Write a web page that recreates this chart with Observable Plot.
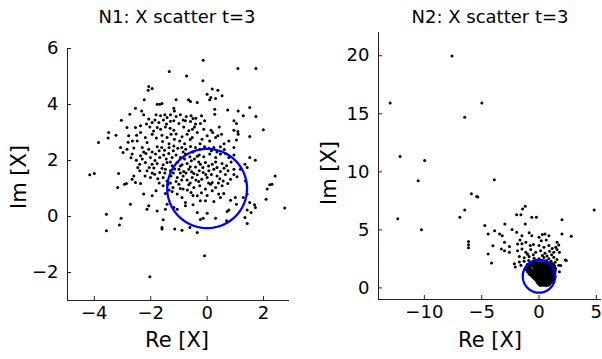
<!DOCTYPE html>
<html><head><meta charset="utf-8">
<script src="https://cdn.jsdelivr.net/npm/d3@7"></script>
<script src="https://cdn.jsdelivr.net/npm/@observablehq/plot@0.6"></script>
<style>
html,body{margin:0;padding:0;background:#fff;}
#wrap{position:relative;width:602px;height:359px;overflow:hidden;font-family:"DejaVu Sans",sans-serif;}
.panel{position:absolute;top:0;}
#overlay{position:absolute;left:0;top:0;pointer-events:none;}
</style></head>
<body><div id="wrap"></div>
<script>
// ---------- data ----------
const titles = ["N1: X scatter t=3", "N2: X scatter t=3"];
const xLabel = "Re [X]";
const yLabel = "Im [X]";
const n1XTicks = [-4, -2, 0, 2];
const n1YTicks = [-2, 0, 2, 4, 6];
const n2XTicks = [-10, -5, 0, 5];
const n2YTicks = [0, 5, 10, 15, 20];
const circleCenter = [0, 1];
const circleRadius = Math.SQRT2;

const n1Points = [
[-0.14,5.58],[1.09,5.29],[1.73,5.29],[-1.34,5.18],[-0.73,5.02],[-0.15,4.85],[-2.07,4.64],[-1.95,4.57],[-2.09,4.51],[0.18,4.55],[0.38,4.51],
[0.00,4.37],[0.13,4.25],[0.53,4.31],[0.30,4.21],[0.09,4.17],[-2.23,4.17],[-1.10,4.17],[-0.66,4.17],[-0.59,4.11],[-0.35,4.07],[-1.77,4.01],[-1.68,4.01],[-1.60,4.04],[0.73,3.80],[1.51,3.89],[0.27,3.83],[-1.18,3.87],[-2.54,3.87],
[-2.32,3.77],[-1.16,3.77],[0.27,3.65],[1.10,3.77],[1.28,3.60],[1.73,3.57],[-2.25,3.63],[-2.74,3.65],[-1.81,3.63],[-1.65,3.60],[-1.50,3.63],[-1.42,3.54],[-1.30,3.63],[-1.10,3.57],[-0.95,3.63],[-0.74,3.57],[-0.57,3.60],[-0.40,3.51],[-0.20,3.60],[-0.09,3.42],[-0.77,3.42],[-0.59,3.39],[-0.24,3.32],[-0.41,3.30],[-3.04,3.44],[-2.07,3.48],[-1.95,3.36],[-1.71,3.36],[-1.44,3.30],[-1.18,3.42],[-1.00,3.32],[0.95,3.42],[1.04,3.32],
[-2.84,3.18],[-2.54,3.18],[-2.36,3.24],[-2.03,3.20],[-1.77,3.18],[-1.65,3.12],[-1.48,3.20],[-1.31,3.15],[-1.18,3.08],[-0.83,3.20],[-0.65,3.06],[-0.52,3.12],[-0.12,3.12],[0.14,3.08],[0.43,3.20],[0.95,3.08],[1.09,3.04],[1.10,2.94],[1.99,3.10],
[-3.85,2.64],[-3.49,3.00],[-3.51,2.80],[-3.23,2.90],[-2.78,2.88],[-2.65,2.70],[-2.36,3.00],[-2.19,2.82],[-2.48,2.70],[-2.13,2.64],[-1.95,2.94],[-1.80,2.80],[-1.58,2.68],[-1.42,2.82],[-1.28,2.94],[-1.16,2.76],[-0.97,2.70],[-0.89,2.85],[-0.71,2.94],[-0.53,2.82],[-0.35,3.00],[-0.18,2.76],[0.00,2.88],[0.09,2.70],[0.30,2.82],[0.38,2.88],[0.51,2.94],[0.77,2.70],[1.04,2.73],[1.51,2.86],
[-3.07,2.46],[-2.84,2.40],[-2.30,2.46],[-2.07,2.40],[-1.77,2.49],[-1.61,2.46],[-1.51,2.37],[-1.35,2.46],[-1.18,2.52],[-1.04,2.44],[-0.90,2.46],[-0.76,2.40],[-0.59,2.50],[-0.41,2.46],[-0.26,2.40],[-0.09,2.49],[0.06,2.44],[0.24,2.46],[0.47,2.49],[0.61,2.39],[0.95,2.46],
[-2.98,2.29],[-2.66,2.23],[-2.36,2.17],[-2.17,2.25],[-2.01,2.11],[-1.83,2.23],[-1.68,2.11],[-1.54,2.20],[-1.36,2.25],[-1.24,2.11],[-1.10,2.20],[-0.95,2.11],[-0.77,2.23],[-0.61,2.13],[-0.45,2.05],[-0.28,2.20],[-0.12,2.13],[0.09,2.23],[0.30,2.11],[0.47,2.23],[0.77,2.11],[0.95,2.20],[1.51,2.11],[1.71,2.01],
[-2.51,2.01],[-2.39,1.87],[-2.19,1.93],[-1.95,1.87],[-1.77,1.89],[-1.56,1.85],[-1.42,1.93],[-1.24,1.81],[-1.06,1.93],[-0.89,1.85],[-0.71,1.89],[-0.56,1.99],[-0.41,1.77],[-0.24,1.87],[-0.06,1.93],[0.18,1.87],[0.35,1.75],[0.53,1.89],[0.69,1.81],[0.95,1.69],[1.34,1.87],[1.42,1.75],
[-2.46,1.75],[-2.39,1.63],[-2.13,1.63],[-1.89,1.73],[-1.68,1.57],[-1.48,1.69],[-1.30,1.63],[-1.00,1.69],[-0.83,1.61],[-0.65,1.69],[-0.47,1.54],[-0.28,1.63],[-0.14,1.57],[0.06,1.63],[0.24,1.69],[0.47,1.61],[0.74,1.63],[1.18,1.69],[-3.14,1.54],[-4.16,1.49],[-4.00,1.54],
[-2.60,1.45],[-2.66,1.33],[-2.93,1.15],[-2.54,1.21],[-2.36,1.18],[-2.01,1.39],[-1.86,1.51],[-1.56,1.39],[-1.42,1.27],[-1.28,1.45],[-1.06,1.39],[-0.85,1.45],[-0.71,1.30],[-0.53,1.39],[-0.35,1.49],[-0.19,1.33],[0.00,1.39],[0.18,1.21],[0.35,1.45],[0.57,1.27],[0.83,1.33],[1.06,1.42],
[-3.17,1.04],[-2.86,1.18],[-1.56,1.10],[-1.39,1.15],[-1.21,1.04],[-1.00,1.15],[-0.85,0.98],[-0.65,1.13],[-0.47,1.04],[-0.26,1.10],[-0.06,0.98],[0.12,1.15],[0.30,1.04],[0.53,1.10],[0.73,1.18],[1.36,1.27],[2.13,0.98],[2.22,1.13],[2.30,1.15],[2.41,1.45],
[-1.81,0.92],[-1.48,0.82],[-1.24,0.89],[-1.06,0.80],[-0.89,0.68],[-0.57,0.86],[-0.35,0.74],[0.18,0.92],[0.41,0.80],[0.59,0.82],[1.00,0.68],[1.42,0.80],[-2.25,0.80],[-1.95,0.74],[2.09,0.62],[-2.72,0.44],
[-2.07,0.38],[-2.13,0.26],[-1.42,0.44],[-1.18,0.32],[-0.77,0.50],[-0.77,0.38],[-0.50,0.42],[-0.24,0.56],[-0.06,0.56],[0.24,0.54],[0.47,0.68],[0.83,0.58],[1.04,0.44],[1.28,0.68],[1.51,0.50],[1.68,0.42],[1.71,0.32],[-1.77,0.20],[-1.48,0.26],[-1.06,0.26],[0.71,0.18],[0.77,0.23],[1.42,0.23],[1.56,0.14],[2.75,0.30],
[-3.57,0.08],[-3.05,-0.06],[-3.11,-0.30],[-1.56,-0.12],[-0.35,0.14],[0.00,0.12],[-0.24,-0.11],[-0.14,-0.06],[0.30,-0.06],[0.69,-0.15],[1.34,-0.04],[1.42,-0.25],[-3.57,-0.51],[-1.60,-0.39],[-1.60,-0.45],[-1.15,-0.45],[-0.89,-0.49],[-0.61,-0.39],[-0.35,-0.57],[-0.09,-1.40],[-2.03,-2.15],
[-1.90,3.05],[-1.60,2.90],[-1.35,2.60],[-1.10,2.95],[-0.80,2.60],[-0.60,2.75],[-0.45,3.20],[-0.25,2.60],[0.20,3.00],[0.60,2.60],
[-2.25,2.30],[-1.95,2.30],[-1.70,2.35],[-1.45,2.05],[-1.20,2.35],[-0.85,2.30],[-0.50,2.30],[-0.35,2.15],[0.15,2.35],[0.35,2.30],[0.65,2.25],
[-2.30,2.05],[-2.05,1.75],[-1.85,2.00],[-1.60,1.72],[-1.30,1.95],[-1.15,1.70],[-0.95,1.80],[-0.80,2.05],[-0.60,1.78],[-0.30,1.95],[-0.15,1.75],[0.05,1.80],[0.30,1.95],[0.60,1.72],[0.85,1.95],
[-2.20,1.45],[-1.95,1.55],[-1.75,1.35],[-1.50,1.55],[-1.20,1.55],[-0.95,1.55],[-0.75,1.55],[-0.55,1.60],[-0.40,1.30],[-0.05,1.50],[0.15,1.50],[0.45,1.35],[0.65,1.50],[0.95,1.50],
[-1.70,1.20],[-1.30,1.20],[-1.10,1.25],[-0.90,1.30],[-0.60,1.20],[-0.30,1.25],[0.05,1.20],[0.40,1.20],[-1.35,0.95],[-0.95,1.00],[-0.70,0.95],[-0.50,0.75],[-0.20,0.85],[0.00,0.75],
[-1.55,3.45],[-1.30,3.40],[-0.85,3.45],[-0.50,3.50],[-1.85,3.45],[-2.15,3.30],[-2.50,2.90],[-2.60,2.45],[-2.80,2.65],[-2.70,2.10]
];

const n2Outliers = [
[-7.59,19.97],[-12.98,15.92],[-4.99,15.92],[-6.48,14.71],[-12.12,11.32],[-9.97,10.98],[-10.54,9.22],[-3.90,9.31],[-5.90,8.10],[-5.44,7.87],[-5.33,7.82],[-6.48,6.72],[4.81,6.72],[-12.32,5.95],[-6.91,6.09],[-10.26,5.00]
];
const n2Middle = [
[-4.73,5.37],[-6.15,4.00],[-6.15,3.72],[-6.15,3.45],[-4.44,4.65],[-4.44,2.93],[-4.14,2.14],[-3.87,4.93],[-3.44,4.65],[-3.21,4.50],[-2.98,5.51],[-2.35,5.02],[-4.02,3.64],[-3.01,3.93],[-2.58,3.56],[-3.29,3.36],[-3.01,3.21],[-2.58,3.07],
[-1.20,7.03],[-1.43,6.80],[-1.95,6.31],[-1.58,6.31],[-0.63,6.08],[-0.23,6.08],[2.00,5.88],[-1.20,5.51],[2.81,4.45],[2.00,4.65],
[-1.95,4.79],[-1.49,4.50],[-1.66,4.13],[-1.87,3.79],[-0.86,4.74],[-0.63,4.50],[0.00,4.36],[0.29,4.59],[0.52,4.65],[0.86,4.50],[0.63,4.13],[0.20,4.07],[1.57,3.93],[1.72,3.70],
[-1.49,3.80],[-1.15,3.93],[-0.77,3.65],[-0.49,3.73],[0.00,3.65],[0.43,3.50],[0.86,3.65],[1.15,3.40],
[-1.87,3.21],[-1.49,3.36],[-1.15,3.07],[-0.72,3.30],[-0.29,3.07],[0.14,3.21],[0.52,2.99],[0.92,3.16],[1.29,3.07],[1.57,3.30],
[-1.72,2.70],[-1.29,2.60],[-0.86,2.70],[-0.43,2.55],[0.00,2.50],[0.43,2.62],[0.86,2.52],[1.29,2.65],[1.57,2.45],[2.29,2.40],
[-2.15,2.09],[-2.07,1.80],[-1.72,2.24],[-1.58,1.95],[1.72,1.95],[1.78,1.38],[1.46,3.51],[1.78,3.07],[2.38,2.36],[1.89,1.93],
[-1.00,2.90],[-0.50,2.85],[0.30,2.80],[0.70,2.75],[1.10,2.85],[-0.20,2.30],[0.65,2.35],[1.05,2.30],[1.40,2.20],[-1.30,2.30],[-0.90,2.35]
];
const n2Core = [
[-0.62,2.20],[-0.38,2.24],[-0.15,2.18],[0.08,2.22],[0.31,2.19],[0.55,2.23],[0.78,2.18],[1.02,2.20],
[-1.02,2.02],[-0.80,1.98],[-0.57,2.03],[-0.34,1.99],[-0.10,2.02],[0.13,1.98],[0.36,2.03],[0.60,1.99],[0.83,2.02],[1.06,1.98],[1.25,2.02],
[-1.10,1.80],[-0.88,1.83],[-0.46,1.78],[-0.23,1.82],[0.00,1.79],[0.23,1.83],[0.46,1.78],[0.69,1.82],[0.92,1.79],[1.15,1.83],[1.33,1.79],
[-1.12,1.60],[-0.90,1.57],[-0.68,1.62],[-0.30,1.60],[-0.08,1.58],[0.15,1.62],[0.38,1.58],[0.61,1.61],[0.84,1.58],[1.07,1.62],[1.30,1.59],[1.42,1.64],
[-1.00,1.40],[-0.60,1.42],[-0.38,1.38],[-0.16,1.41],[0.07,1.38],[0.30,1.42],[0.53,1.39],[0.76,1.41],[0.99,1.38],[1.22,1.42],[1.40,1.40],
[-0.88,1.20],[-0.66,1.18],[-0.44,1.22],[-0.22,1.19],[0.01,1.22],[0.24,1.18],[0.47,1.21],[0.70,1.19],[0.93,1.22],[1.16,1.18],[1.38,1.21],
[-0.60,1.00],[-0.36,0.98],[-0.13,1.02],[0.10,0.99],[0.33,1.02],[0.56,0.98],[0.79,1.01],[1.02,0.98],[1.25,1.02],[1.40,0.97],
[-0.42,0.80],[-0.20,0.78],[0.03,0.82],[0.26,0.79],[0.49,0.82],[0.72,0.78],[0.95,0.81],[1.18,0.79],[1.30,0.84],
[-0.22,0.60],[0.01,0.58],[0.24,0.62],[0.47,0.59],[0.70,0.62],[0.93,0.58],[1.15,0.61],
[-0.08,0.40],[0.15,0.42],[0.38,0.38],[0.61,0.41],[0.84,0.39],[1.00,0.43],
[0.12,0.20],[0.35,0.22],[0.58,0.19],[0.80,0.22],
[-0.80,2.10],[-0.50,2.12],[-0.26,2.08],[-0.02,2.11],[0.20,2.09],[0.43,2.12],[0.67,2.08],[0.90,2.11],[1.14,2.09],
[-0.98,1.90],[-0.68,1.92],[-0.45,1.88],[-0.22,1.91],[0.01,1.89],[0.25,1.92],[0.48,1.88],[0.71,1.91],[0.95,1.89],[1.18,1.92],[1.36,1.90],
[-1.00,1.70],[-0.78,1.72],[-0.35,1.68],[-0.12,1.71],[0.11,1.69],[0.34,1.72],[0.58,1.68],[0.81,1.71],[1.04,1.69],[1.26,1.72],[1.42,1.70],
[-1.05,1.50],[-0.80,1.48],[-0.49,1.52],[-0.19,1.49],[0.04,1.52],[0.27,1.48],[0.50,1.51],[0.73,1.49],[0.96,1.52],[1.19,1.48],[1.40,1.51],
[-0.80,1.30],[-0.49,1.32],[-0.27,1.28],[-0.05,1.31],[0.18,1.29],[0.41,1.32],[0.64,1.28],[0.87,1.31],[1.10,1.29],[1.32,1.32],
[-0.75,1.10],[-0.55,1.12],[-0.33,1.08],[-0.10,1.11],[0.13,1.09],[0.36,1.12],[0.59,1.08],[0.82,1.11],[1.05,1.09],[1.28,1.12],
[-0.50,0.90],[-0.25,0.88],[-0.02,0.92],[0.21,0.89],[0.44,0.92],[0.67,0.88],[0.90,0.91],[1.13,0.89],[1.35,0.92],
[-0.30,0.70],[-0.10,0.72],[0.13,0.68],[0.36,0.71],[0.59,0.69],[0.82,0.72],[1.05,0.68],[1.24,0.71],
[-0.15,0.50],[0.08,0.52],[0.31,0.48],[0.54,0.51],[0.77,0.49],[1.00,0.52],[1.12,0.48],
[0.02,0.30],[0.24,0.32],[0.47,0.28],[0.70,0.31],[0.90,0.29]
];
const n2Points = [...n2Outliers, ...n2Middle, ...n2Core];

// ---------- drawing ----------
const FONT = "DejaVu Sans, sans-serif";
const AXIS_COLOR = "#222";
const circlePath = d3.range(0, 361, 3).map(a => [
  circleCenter[0] + circleRadius * Math.cos(a * Math.PI / 180),
  circleCenter[1] + circleRadius * Math.sin(a * Math.PI / 180)
]);

function panel({points, xDomain, yDomain, xTicks, yTicks, width, height, margins}) {
  return Plot.plot({
    width, height,
    marginLeft: margins[0], marginRight: margins[1], marginTop: margins[2], marginBottom: margins[3],
    style: {fontFamily: FONT, fontSize: "18px", background: "transparent", overflow: "visible", color: "#000"},
    x: {domain: xDomain},
    y: {domain: yDomain},
    marks: [
      Plot.ruleX([xDomain[0]], {stroke: AXIS_COLOR, strokeWidth: 1}),
      Plot.ruleY([yDomain[0]], {stroke: AXIS_COLOR, strokeWidth: 1}),
      Plot.axisX({ticks: xTicks, tickSize: -4, tickPadding: 10, tickFormat: d3.format("d"), label: null, stroke: AXIS_COLOR}),
      Plot.axisY({ticks: yTicks, tickSize: -4, tickPadding: 13, tickFormat: d3.format("d"), label: null, stroke: AXIS_COLOR}),
      Plot.dot(points, {x: d => d[0], y: d => d[1], r: 1.5, fill: "#000", stroke: "none"}),
      Plot.line(circlePath, {x: d => d[0], y: d => d[1], stroke: "#0000ff", strokeWidth: 2.3, curve: "linear"})
    ]
  });
}

const wrap = document.getElementById("wrap");
const left = panel({points: n1Points, xDomain: [-4.95, 2.92], yDomain: [-3, 6], xTicks: n1XTicks, yTicks: n1YTicks,
  width: 300, height: 359, margins: [67, 11, 48, 59]});
left.classList.add("panel"); left.style.left = "0px";
wrap.appendChild(left);
const right = panel({points: n2Points, xDomain: [-14, 5.45], yDomain: [-1, 22], xTicks: n2XTicks, yTicks: n2YTicks,
  width: 302, height: 359, margins: [78, 1, 32, 60]});
right.classList.add("panel"); right.style.left = "300px";
wrap.appendChild(right);

// titles and axis labels as real text
const ns = "http://www.w3.org/2000/svg";
const ov = document.createElementNS(ns, "svg");
ov.setAttribute("id", "overlay"); ov.setAttribute("width", 602); ov.setAttribute("height", 359);
function addText(str, x, y, size, rotate) {
  const t = document.createElementNS(ns, "text");
  t.textContent = str;
  t.setAttribute("text-anchor", "middle");
  t.setAttribute("font-family", FONT);
  t.setAttribute("font-size", size);
  t.setAttribute("fill", "#000");
  t.setAttribute("transform", `translate(${x},${y})` + (rotate ? ` rotate(${rotate})` : ""));
  ov.appendChild(t);
}
addText(titles[0], 177, 23, 18);
addText(titles[1], 490, 23, 18);
addText(xLabel, 177, 347, 21);
addText(xLabel, 490, 347, 21);
addText(yLabel, 26, 177, 21, -90);
addText(yLabel, 336, 173, 21, -90);
wrap.appendChild(ov);
</script>
</body></html>
